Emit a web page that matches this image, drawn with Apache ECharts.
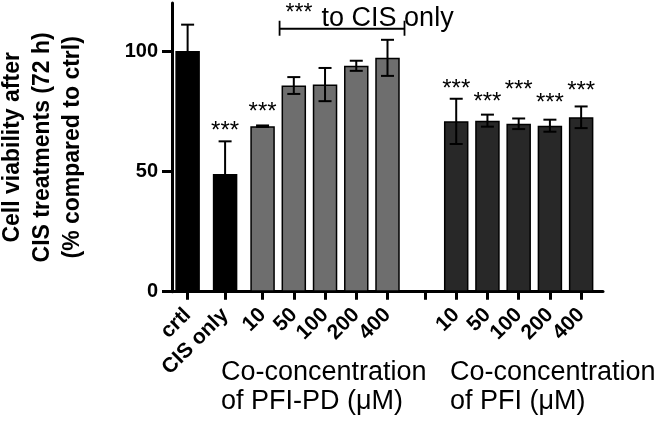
<!DOCTYPE html>
<html><head><meta charset="utf-8">
<script src="https://cdn.jsdelivr.net/npm/echarts@6/dist/echarts.min.js"></script>
<style>html,body{margin:0;padding:0;background:#fff}#c{width:658px;height:425px}</style>
</head><body><div id="c"></div>
<script>
// ---- data ----
const categories = ['crtl', 'CIS only', '10', '50', '100', '200', '400', '', '10', '50', '100', '200', '400'];
const groups = ['ctrl', 'ctrl', 'pd', 'pd', 'pd', 'pd', 'pd', 'none', 'pfi', 'pfi', 'pfi', 'pfi', 'pfi'];
const values = [100, 48.9, 68.8, 85.7, 86.1, 93.9, 97.2, null, 70.8, 71.1, 69.8, 69.0, 72.5];
const errors = [11, 13.6, 0.3, 3.5, 6.9, 2.1, 7.5, null, 9.4, 2.5, 2.2, 2.5, 4.5];
const stars = ['', '***', '***', '', '', '', '', '', '***', '***', '***', '***', '***'];
const starLevels = [null, 68.75, 76.7, null, null, null, null, null, 86.1, 80.6, 85.7, 80.3, 85.4];
const yTicks = [0, 50, 100];
const yTitle = 'Cell viability after\nCIS treatments (72 h)\n(% compared to ctrl)';
const groupLabels = ['Co-concentration\nof PFI-PD (\u03bcM)', 'Co-concentration\nof PFI (\u03bcM)'];
const bracketStars = '***';
const bracketText = 'to CIS only';
const bracketLevel = 109.3;

// ---- layout ----
const FONT = '"Liberation Sans", Arial, Helvetica, sans-serif';
const lead = 2, gaps = [6, 6, 5, 5, 5, 5, 6, 5, 5, 5, 5, 5], tail = 3;
const slotOf = [];
let s = lead;
categories.forEach((c, i) => { if (i > 0) s += gaps[i - 1]; slotOf.push(s); });
const nSlots = s + 1 + tail;
const slotNames = Array.from({length: nSlots}, (_, k) => 's' + k);
const labelOfSlot = Array.from({length: nSlots}, (_, k) => { const i = slotOf.indexOf(k); return i >= 0 ? categories[i] : ''; });
const isCatSlot = (idx) => slotOf.indexOf(idx) >= 0;
const fillColors = {ctrl: '#000000', pd: '#6e6e6e', pfi: '#282828', none: '#000000'};

const barData = [], errData = [], starData = [], starTexts = [];
categories.forEach((c, i) => {
  if (values[i] == null) return;
  barData.push({value: [slotOf[i], values[i]], itemStyle: {color: fillColors[groups[i]]}});
  errData.push([slotOf[i], values[i], errors[i]]);
  if (stars[i]) { starData.push([slotOf[i], starLevels[i]]); starTexts.push(stars[i]); }
});

const chart = echarts.init(document.getElementById('c'), null, {renderer: 'canvas'});
chart.setOption({
  animation: false,
  backgroundColor: '#fff',
  grid: {left: 172, width: 431, top: 3, height: 288.7, containLabel: false, outerBoundsMode: 'none'},
  xAxis: {
    type: 'category', data: slotNames, boundaryGap: true,
    axisLine: {show: true, lineStyle: {color: '#000', width: 3}},
    axisTick: {show: true, alignWithLabel: true, interval: (idx) => isCatSlot(idx), length: 8, lineStyle: {color: '#000', width: 3}},
    axisLabel: {show: true, interval: (idx) => isCatSlot(idx), rotate: 45, margin: 20,
      formatter: (v, idx) => labelOfSlot[idx], color: '#000', fontFamily: FONT, fontSize: 21, fontWeight: 'bold'},
    splitLine: {show: false}
  },
  yAxis: {
    type: 'value', min: 0, max: 120, interval: 50,
    name: yTitle, nameLocation: 'middle', nameRotate: 90, nameGap: 84,
    nameTextStyle: {color: '#000', fontFamily: FONT, fontSize: 23, fontWeight: 'bold', lineHeight: 30, align: 'center'},
    axisLine: {show: true, lineStyle: {color: '#000', width: 3}},
    axisTick: {show: true, length: 10, customValues: yTicks, lineStyle: {color: '#000', width: 3}},
    axisLabel: {customValues: yTicks, margin: 14, color: '#000', fontFamily: FONT, fontSize: 20, fontWeight: 'bold'},
    splitLine: {show: false}
  },
  series: [
    {type: 'bar', data: barData, barWidth: 24.5, itemStyle: {borderColor: '#000', borderWidth: 1.5}, z: 3},
    {type: 'custom', data: errData, z: 4,
      renderItem: (params, api) => {
        const x = api.value(0), v = api.value(1), e = api.value(2);
        const t = api.coord([x, v + e]), b = api.coord([x, v - e]);
        const hw = 6.5, st = {stroke: '#000', lineWidth: 2};
        return {type: 'group', children: [
          {type: 'line', shape: {x1: t[0], y1: t[1], x2: b[0], y2: b[1]}, style: st},
          {type: 'line', shape: {x1: t[0] - hw, y1: t[1], x2: t[0] + hw, y2: t[1]}, style: st},
          {type: 'line', shape: {x1: b[0] - hw, y1: b[1], x2: b[0] + hw, y2: b[1]}, style: st}
        ]};
      }},
    {type: 'custom', data: starData, z: 5,
      renderItem: (params, api) => {
        const p = api.coord([api.value(0), api.value(1)]);
        return {type: 'text', x: p[0], y: p[1] + 5, style: {text: starTexts[params.dataIndex], fill: '#000',
          font: '24px ' + FONT, textAlign: 'center', textVerticalAlign: 'middle'}};
      }},
    {type: 'custom', data: [[slotOf[2], slotOf[6], bracketLevel]], z: 5,
      renderItem: (params, api) => {
        const p1 = api.coord([api.value(0), api.value(2)]), p2 = api.coord([api.value(1), api.value(2)]);
        const off = 17, st = {stroke: '#000', lineWidth: 1.8};
        const x1 = p1[0] + off, x2 = p2[0] + off, y = p1[1];
        return {type: 'group', children: [
          {type: 'line', shape: {x1: x1, y1: y, x2: x2, y2: y}, style: st},
          {type: 'line', shape: {x1: x1, y1: y - 8, x2: x1, y2: y + 7}, style: st},
          {type: 'line', shape: {x1: x2, y1: y - 8, x2: x2, y2: y + 7}, style: st},
          {type: 'text', x: x1 + 6, y: y - 27, style: {text: bracketStars, fill: '#000',
            font: '23px ' + FONT, textAlign: 'left', textVerticalAlign: 'top'}},
          {type: 'text', x: x1 + 42, y: y + 3, style: {text: bracketText, fill: '#000',
            font: '27px ' + FONT, textAlign: 'left', textVerticalAlign: 'bottom'}}
        ]};
      }}
  ],
  graphic: [
    {type: 'text', left: 221, top: 358, style: {text: groupLabels[0], font: '27px ' + FONT, lineHeight: 29, fill: '#000'}},
    {type: 'text', left: 450, top: 358, style: {text: groupLabels[1], font: '27px ' + FONT, lineHeight: 29, fill: '#000'}}
  ]
});
</script>
</body></html>
